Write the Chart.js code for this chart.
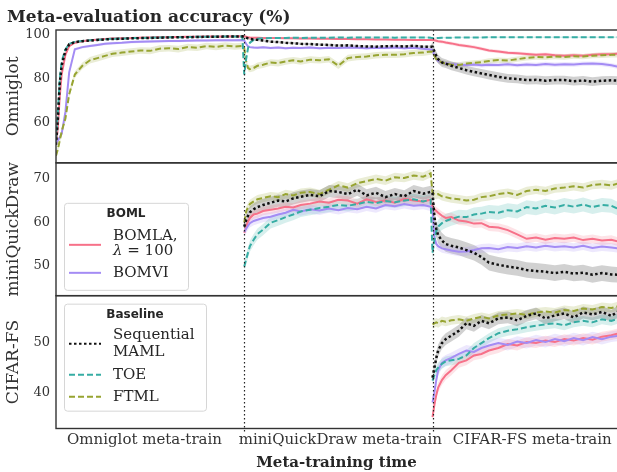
<!DOCTYPE html>
<html>
<head>
<meta charset="utf-8">
<script src="https://cdn.jsdelivr.net/npm/chart.js@4.4.1/dist/chart.umd.min.js"></script>
<style>
  html, body { margin: 0; padding: 0; background: #fff; }
  #wrap { width: 617px; height: 472px; }
</style>
</head>
<body>
<div id="wrap"><canvas id="chart"></canvas></div>
<script>
// sample positions inside each meta-training phase (0..100)
const OFFSETS = [0, 1, 2, 3, 5, 7, 10, 14, 18, 22, 26, 30, 35, 40, 45, 50, 55, 60, 65, 70, 75, 80, 85, 90, 95, 99]

const phaseLabels = ['Omniglot meta-train', 'miniQuickDraw meta-train', 'CIFAR-FS meta-train']
const phaseTicks = [47, 151, 253]

// Omniglot panel: phases 1, 2, 3
const omniBomla = [
  50, 58, 72, 82, 91, 95, 96.5, 97.2, 97.6, 97.9, 98.2, 98.4, 98.5, 98.6, 98.8, 98.9, 99, 99, 99.1, 99.2, 99.2, 99.3, 99.3, 99.3, 99.4, 99.4,
  99.4, 99.2, 99, 98.9, 98.8, 98.8, 98.7, 98.6, 98.6, 98.5, 98.5, 98.4, 98.4, 98.3, 98.3, 98.2, 98.2, 98.1, 98.1, 98, 98, 97.9, 97.9, 97.8, 97.8, 97.8,
  97.7, 97.6, 97.4, 97.2, 97, 96.6, 96.2, 95.5, 95, 94.5, 93.8, 93, 92.5, 91.9, 91.7, 91.4, 91, 91.2, 90.8, 90.6, 90.8, 90.6, 91, 91.2, 91.3, 91.5
]
const omniBomvi = [
  51, 52, 53.5, 55, 65, 83, 93.5, 94.5, 95, 95.5, 96, 96.3, 96.5, 96.8, 97, 97.1, 97.2, 97.3, 97.3, 97.4, 97.5, 97.5, 97.6, 97.6, 97.6, 97.7,
  97.5, 96, 94.8, 94.5, 94.3, 94.2, 94.4, 94.1, 94.3, 94, 94.2, 94.1, 94.3, 94, 94.2, 94.1, 94.3, 94.2, 94, 94.2, 94.1, 94.3, 94, 94.2, 93.8, 93.4,
  93.2, 90.5, 89, 88.2, 87.5, 87, 86.8, 86.5, 86.4, 86.6, 86.2, 86.5, 86.4, 86.7, 86.3, 86.6, 86.4, 86.8, 86.5, 86.7, 86.6, 86.9, 87, 86.8, 86.2, 85.5
]
const omniSeq = [
  50, 62, 78, 86, 93, 95.8, 96.8, 97.2, 97.5, 97.8, 98, 98.2, 98.3, 98.5, 98.6, 98.7, 98.8, 98.9, 99, 99, 99.1, 99.2, 99.2, 99.3, 99.3, 99.4,
  99.2, 98.8, 98.5, 98.2, 98, 97.8, 97.5, 97, 96.8, 96.5, 96.3, 96, 95.9, 95.6, 95.5, 95.2, 95.3, 95, 94.8, 94.7, 94.9, 95, 94.8, 95.1, 94.7, 94.7,
  94.7, 92.5, 90.5, 89, 87.5, 87, 86, 85, 84, 83.2, 82.5, 81.8, 81, 80.3, 80, 79.5, 79.6, 79.2, 79.5, 79.5, 79, 79.3, 78.8, 79.2, 79.4, 79.2
]
const omniToe = [
  52, 65, 80, 88, 93.5, 96, 96.9, 97.3, 97.6, 97.9, 98.1, 98.3, 98.4, 98.6, 98.7, 98.8, 98.9, 99, 99, 99.1, 99.2, 99.2, 99.3, 99.3, 99.3, 99.4,
  82, 89, 94, 96.5, 97.8, 98.3, 98.5, 98.6, 98.7, 98.7, 98.8, 98.7, 98.8, 98.8, 98.8, 98.9, 98.8, 98.9, 98.9, 98.9, 98.9, 98.8, 98.9, 98.9, 98.9, 98.8,
  98.6, 98.6, 98.7, 98.7, 98.8, 98.8, 98.8, 98.9, 98.9, 98.9, 98.9, 99, 99, 99, 99, 99, 99, 99, 99, 99, 99, 99, 99, 99, 99, 99
]
const omniFtml = [
  45, 48, 52, 56, 62, 73, 82, 86, 88.5, 89.5, 90.5, 91.5, 92, 92.5, 93, 92.8, 93.8, 94, 93.6, 94.5, 94.2, 95, 94.6, 95.2, 94.8, 95,
  94, 88, 85, 84.5, 85, 86, 86.5, 87.5, 87.2, 88, 88.5, 88, 88.8, 88.5, 89, 86, 89.5, 90, 90.2, 90.8, 91, 91, 91.3, 91.8, 92, 92.5,
  92.4, 90.5, 89, 88.5, 87.5, 87, 86.6, 86.4, 87, 87.3, 87.6, 88.2, 88.6, 88.4, 89, 89.6, 90, 89.8, 90.2, 90, 90.4, 90.2, 90.6, 90.8, 91, 91
]

// miniQuickDraw panel: phases 2, 3
const qdBomla = [
  57.6, 59, 60.2, 61, 61.8, 62, 62.6, 62.9, 63.2, 63.6, 63.4, 64, 64.3, 64.8, 64.5, 65.2, 65, 64.3, 65.3, 64.7, 65, 64.5, 65.4, 65, 64.8, 65.2,
  63.6, 63, 62.6, 62.2, 61.5, 61, 61.2, 60.4, 60.2, 59.7, 59.8, 59, 58.8, 58.2, 57.2, 56.2, 56.5, 56, 56.4, 56.2, 56.5, 55.9, 56.2, 55.8, 56, 55.5
]
const qdBomvi = [
  57.8, 58.5, 59.2, 59.8, 60.3, 60.6, 61, 61.3, 61.8, 62.2, 62.9, 62.5, 63, 62.7, 63.2, 62.8, 63.3, 63, 63.6, 63.2, 64, 63.7, 64.2, 63.8, 64, 63.6,
  62.9, 56.5, 55, 54.5, 54, 53.8, 53.5, 53.2, 53.3, 53.6, 54, 54.1, 53.8, 54.3, 54.1, 54.5, 54.2, 54.6, 54.3, 54.5, 54.2, 54.6, 54.1, 54.4, 54.2, 54
]
const qdSeq = [
  59, 60.5, 61.5, 62.3, 63, 63.5, 64, 64.5, 65, 64.8, 65.5, 65.9, 66.3, 66, 67.2, 67, 66.5, 67.5, 66.2, 66.8, 65.8, 66.5, 66, 67.2, 66.6, 67,
  66.8, 61.3, 58.5, 57, 55.8, 55, 54.6, 54.2, 53.6, 53, 52, 50.7, 50.2, 49.8, 49.5, 49, 48.8, 48.6, 48.3, 48.6, 48.2, 48.4, 47.9, 48.3, 48, 47.9
]
const qdToe = [
  49.8, 51.5, 53, 54.5, 56, 57.3, 58.3, 59.9, 60.5, 61.2, 61.8, 62.5, 62.9, 63.3, 63.6, 64, 63.8, 64.2, 64.7, 64.4, 64.9, 64.6, 65, 65.3, 64.8, 65.2,
  53, 56, 58, 59, 59.8, 60.3, 60.8, 61.3, 61.2, 61.8, 62, 62.4, 62.2, 62.8, 62.5, 63.5, 63.2, 63.8, 63.4, 64, 63.6, 64.1, 63.5, 64, 63.8, 63
]
const qdFtml = [
  60, 62.5, 63.5, 64.2, 64.8, 65.3, 65.6, 66, 65.8, 66.5, 66.2, 66.8, 67, 66.5, 67.5, 68.5, 68, 69, 69.5, 70, 69.6, 70.4, 70.2, 70.8, 70.5, 71.3,
  66.8, 66.5, 66.3, 66.5, 66, 65.8, 65.5, 65.3, 65, 65.2, 65.8, 66, 66.5, 66.8, 66.3, 67.2, 67.5, 67.2, 67.8, 68, 68.3, 68, 68.6, 68.8, 68.5, 69
]

// CIFAR-FS panel: phase 3 only
const cfBomla = [35, 37.5, 39.5, 41, 42.5, 43.5, 44.5, 46, 46.5, 47.5, 47.8, 48.5, 49, 49.8, 49.5, 50.2, 50, 50.5, 50.2, 50.8, 50.5, 51, 50.7, 51.3, 51.6, 52]
const cfBomvi = [38, 40, 42.5, 44.5, 46, 46.5, 47, 47.8, 48.5, 48.2, 49, 49.5, 50, 49.6, 50.3, 50, 50.6, 50.2, 50.8, 50.4, 51, 50.6, 51.2, 50.8, 51.3, 51.5]
const cfSeq = [43, 45, 47, 48.5, 50, 50.8, 51.5, 52.5, 54, 53.5, 54.5, 54, 55, 55.2, 54.6, 55.5, 56, 55, 55.6, 56, 55.2, 56.2, 55.8, 56.3, 55.5, 56.5]
const cfToe = [42.4, 43.5, 44.5, 45, 45.8, 46.3, 46.5, 46.8, 47.5, 49, 50, 51, 52, 52.5, 52.8, 53.2, 53.5, 53.8, 54, 53.6, 54.2, 54.5, 54.2, 54.8, 54.5, 55]
const cfFtml = [53.8, 54, 54.2, 54, 54.5, 54.3, 54.6, 54.8, 54.5, 55, 55.3, 55, 55.6, 55.8, 56, 55.7, 56.2, 56.4, 56.2, 56.7, 56.5, 57, 56.8, 57.3, 57.1, 57.5]

// std-band half widths per phase, series order: BOMLA, BOMVI, Sequential MAML, TOE, FTML
const omniBand = [[0.5, 0.4, 0.8], [0.6, 0.6, 1.0], [0.4, 0.5, 2.0], [0.4, 0.4, 0.3], [1.5, 1.5, 1.2]]
const qdBand = [[1.0, 1.0], [1.0, 1.0], [1.4, 1.8], [1.3, 1.6], [1.0, 1.0]]
const cfBand = [[1.0], [1.1], [1.2], [1.0], [0.9]]

const STYLES = [
  { label: 'BOMLA, λ = 100', color: '#f77189', band: 'rgba(247,113,137,0.2)', dash: [], width: 2, order: 5 },
  { label: 'BOMVI', color: '#a48cf4', band: 'rgba(164,140,244,0.2)', dash: [], width: 2, order: 4 },
  { label: 'Sequential MAML', color: '#111111', band: 'rgba(0,0,0,0.18)', dash: [2.5, 2.5], width: 2.5, order: 1 },
  { label: 'TOE', color: '#36ada4', band: 'rgba(54,173,164,0.2)', dash: [6, 3], width: 2, order: 2 },
  { label: 'FTML', color: '#97a431', band: 'rgba(151,164,49,0.2)', dash: [6, 3], width: 2, order: 3 }
]

const SERIF = "'DejaVu Serif', serif"
const SANS = "'DejaVu Sans', sans-serif"
const INK = '#333333'

const datasets = []

function toPoints(vals, firstPhase) {
  const n = OFFSETS.length
  return vals.map((v, i) => ({ x: 100 * (firstPhase + Math.floor(i / n)) + OFFSETS[i % n], y: v }))
}

function addPanel(axisId, firstPhase, seriesVals, bands) {
  const n = OFFSETS.length
  seriesVals.forEach((vals, s) => {
    const st = STYLES[s]
    const pts = toPoints(vals, firstPhase)
    const hw = i => bands[s][Math.floor(i / n)]
    datasets.push({
      label: st.label + ' (upper)', yAxisID: axisId,
      data: pts.map((p, i) => ({ x: p.x, y: p.y + hw(i) })),
      borderWidth: 0, pointRadius: 0, fill: '+1', backgroundColor: st.band, order: 10
    })
    datasets.push({
      label: st.label + ' (lower)', yAxisID: axisId,
      data: pts.map((p, i) => ({ x: p.x, y: p.y - hw(i) })),
      borderWidth: 0, pointRadius: 0, fill: false, order: 10
    })
    datasets.push({
      label: st.label, yAxisID: axisId, data: pts,
      borderColor: st.color, borderWidth: st.width, borderDash: st.dash,
      pointRadius: 0, fill: false, tension: 0, order: st.order
    })
  })
}

addPanel('yOmni', 0, [omniBomla, omniBomvi, omniSeq, omniToe, omniFtml], omniBand)
addPanel('yQd', 1, [qdBomla, qdBomvi, qdSeq, qdToe, qdFtml], qdBand)
addPanel('yCf', 2, [cfBomla, cfBomvi, cfSeq, cfToe, cfFtml], cfBand)

function panelAxis(min, max, ticks, title) {
  return {
    type: 'linear', position: 'left', stack: 'panels', stackWeight: 1,
    min: min, max: max,
    grid: { display: false, drawTicks: false },
    border: { display: false },
    afterBuildTicks: scale => { scale.ticks = ticks.map(v => ({ value: v })) },
    afterFit: scale => { scale.width = 49 },
    ticks: { color: INK, font: { family: SERIF, size: 13 }, padding: 6 },
    title: { display: true, text: title, color: INK, font: { family: SERIF, size: 17, lineHeight: 1 }, padding: { top: -2, bottom: 0 } }
  }
}

function drawLegend(ctx, left, top, width, height, title, entries) {
  ctx.save()
  ctx.beginPath()
  ctx.roundRect(left + 0.5, top + 0.5, width, height, 3)
  ctx.fillStyle = 'rgba(255,255,255,0.85)'
  ctx.fill()
  ctx.strokeStyle = '#d6d6d6'
  ctx.lineWidth = 1
  ctx.stroke()

  ctx.fillStyle = '#262626'
  ctx.textAlign = 'center'
  ctx.textBaseline = 'middle'
  ctx.font = 'bold 12px ' + SANS
  ctx.fillText(title, left + width / 2, top + 11)

  entries.forEach(e => {
    const st = STYLES[e.series]
    ctx.beginPath()
    ctx.setLineDash(st.dash)
    ctx.strokeStyle = st.color
    ctx.lineWidth = 2
    ctx.moveTo(left + 5, top + e.sampleY)
    ctx.lineTo(left + 37, top + e.sampleY)
    ctx.stroke()
    ctx.setLineDash([])
    ctx.textAlign = 'left'
    ctx.fillStyle = '#262626'
    e.lines.forEach((line, k) => {
      const y = top + e.textY[k]
      let x = left + 49
      if (line.startsWith('λ')) {
        ctx.font = 'italic 15px ' + SERIF
        ctx.fillText('λ', x, y)
        x += ctx.measureText('λ').width
        line = line.slice(1)
      }
      ctx.font = '15px ' + SERIF
      ctx.fillText(line, x, y)
    })
  })
  ctx.restore()
}

const panelDecor = {
  id: 'panelDecor',
  afterDatasetsDraw(chart) {
    const { ctx, chartArea, scales } = chart
    const x = scales.x
    ctx.save()
    // phase separators
    ctx.strokeStyle = '#222222'
    ctx.lineWidth = 1.2
    ctx.setLineDash([1.5, 2.5])
    ;[100, 200].forEach(v => {
      const px = Math.round(x.getPixelForValue(v)) + 0.5
      ctx.beginPath()
      ctx.moveTo(px, chartArea.top)
      ctx.lineTo(px, chartArea.bottom + 4)
      ctx.stroke()
    })
    ctx.setLineDash([])
    // panel frames
    ctx.strokeStyle = INK
    ctx.lineWidth = 1.4
    ;['yOmni', 'yQd', 'yCf'].forEach(id => {
      const s = scales[id]
      ctx.strokeRect(chartArea.left, s.top, chartArea.right - chartArea.left + 2, s.bottom - s.top)
    })
    ctx.restore()

    const l = chartArea.left + 8
    drawLegend(ctx, l, scales.yQd.top + 40, 124, 87, 'BOML', [
      { series: 0, lines: ['BOMLA,', 'λ = 100'], textY: [33, 48], sampleY: 42 },
      { series: 1, lines: ['BOMVI'], textY: [70], sampleY: 70 }
    ])
    drawLegend(ctx, l, scales.yCf.top + 8, 142, 107, 'Baseline', [
      { series: 2, lines: ['Sequential', 'MAML'], textY: [31, 48], sampleY: 40 },
      { series: 3, lines: ['TOE'], textY: [71], sampleY: 71 },
      { series: 4, lines: ['FTML'], textY: [93], sampleY: 93 }
    ])
  }
}

new Chart(document.getElementById('chart'), {
  type: 'line',
  data: { datasets: datasets },
  plugins: [panelDecor],
  options: {
    responsive: true,
    maintainAspectRatio: false,
    animation: false,
    layout: { padding: { left: 7, right: 0, top: 0, bottom: 0 }, autoPadding: false },
    plugins: {
      legend: { display: false },
      tooltip: { enabled: false },
      filler: { drawTime: 'beforeDatasetsDraw' },
      title: {
        display: true, text: 'Meta-evaluation accuracy (%)', align: 'start', color: '#262626',
        font: { family: SERIF, size: 17, weight: 'bold', lineHeight: 1.1 },
        padding: { top: 8.5, bottom: 2.8 }
      }
    },
    scales: {
      x: {
        type: 'linear', min: 0, max: 298, position: 'bottom',
        grid: { display: false, drawTicks: false },
        border: { display: false },
        afterBuildTicks: scale => { scale.ticks = phaseTicks.map(v => ({ value: v })) },
        afterFit: scale => { scale.height = 43.5 },
        ticks: {
          color: INK, font: { family: SERIF, size: 15 }, padding: 3,
          autoSkip: false, maxRotation: 0,
          callback: (v, i) => phaseLabels[i]
        },
        title: {
          display: true, text: 'Meta-training time', color: '#262626',
          font: { family: SERIF, size: 15, weight: 'bold', lineHeight: 1.2 },
          padding: { top: 0, bottom: 0 }
        }
      },
      // stacked panels are laid out bottom-up in definition order
      yCf: panelAxis(32.7, 59.6, [40, 50], 'CIFAR-FS'),
      yQd: panelAxis(43.1, 73.7, [50, 60, 70], 'miniQuickDraw'),
      yOmni: panelAxis(41.8, 102.3, [60, 80, 100], 'Omniglot')
    }
  }
})
</script>
</body>
</html>
